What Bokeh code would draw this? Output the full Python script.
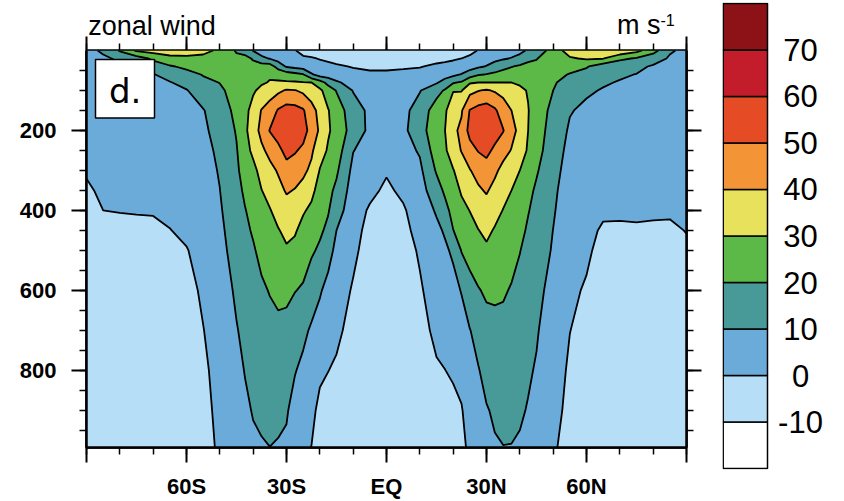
import numpy as np
from bokeh.plotting import figure
from bokeh.models import Range1d, FixedTicker, LinearAxis, Label, BoxAnnotation
from bokeh.layouts import row, column
from bokeh.embed import file_html
from bokeh.resources import INLINE
from bokeh.core.properties import value

# ---------------- data ----------------
lats = [-90, -85, -80, -75, -70, -65, -60, -55, -50, -45,
        -42.5, -40, -37.5, -35, -32.5, -30, -27.5, -25, -22.5, -20, -17.5, -15,
        -10, -5, 0, 5, 10,
        15, 17.5, 20, 22.5, 25, 27.5, 30, 32.5, 35, 37.5, 40, 42.5,
        45, 50, 55, 60, 65, 70, 75, 80, 85, 90]
plevs = [0, 20, 40, 60, 80, 100, 150, 200, 250, 300, 350, 400, 450, 500, 600, 700, 800, 900, 1000]

# zonal wind (m/s): one column per latitude, values at plevs (top -> bottom)
u_by_lat = [
    [8, 7.5, 7, 6.5, 6, 5.5, 4.5, 3.5, 2, 0.7, -1, -2, -3, -3.5, -4, -4, -4, -3.5, -3],              # 90S
    [11, 9, 8, 7.5, 7, 6.5, 5.5, 4.5, 3.5, 2.5, 1.2, 0, -1.5, -2.5, -3.5, -4, -4, -3.5, -3],          # 85S
    [21, 11, 9, 8, 7.5, 7, 6, 5, 4, 3, 1.8, 0.2, -1.5, -2.5, -3.5, -4, -4, -3.5, -3],                # 80S
    [31.5, 15, 10.2, 8.5, 7.8, 7.3, 6.3, 5.3, 4.3, 3.2, 2, 0.4, -1.5, -2.5, -3.5, -4, -4, -3.5, -3],  # 75S
    [34, 22, 14.3, 9.5, 8.3, 7.8, 6.8, 5.8, 4.6, 3.4, 2.2, 0.5, -1.3, -2.5, -3.5, -4, -4, -3.5, -3],  # 70S
    [35, 27, 19, 13.5, 9.5, 8.5, 7.3, 6.3, 5.2, 4, 2.8, 1.6, -0.2, -1.5, -3, -3.5, -3.5, -3, -2.5],  # 65S
    [35, 27.5, 22, 17, 13, 9.5, 8.3, 7.5, 6.5, 5.3, 4.2, 3, 1.6, -0.4, -2.5, -3, -3, -2.5, -2],     # 60S
    [33, 27, 23.5, 20.5, 18, 15, 9.5, 8.8, 8, 7, 6, 5, 4, 3, 1.2, -0.2, -1.2, -1.5, -1.5],          # 55S
    [28, 26, 24, 22.5, 20.2, 18.5, 15, 12.5, 11.3, 10.6, 9.9, 9, 8, 7, 5, 3.5, 2.3, 1.3, 0.6],      # 50S
    [19, 22, 23, 23.5, 23.5, 23.5, 22.5, 20.8, 19.3, 18.5, 17, 16, 15, 14, 11.5, 9.5, 7.5, 5.5, 4],  # 45S
    [16, 23, 24, 25, 26, 26.5, 27.5, 28, 26.5, 23.5, 21.5, 19.5, 18, 16.5, 14, 12, 10.3, 8.5, 6.5],  # 42.5S
    [9.5, 19, 23, 25, 27, 29, 33, 35, 32, 27.5, 25, 23, 21, 19, 16, 14, 12.5, 10.5, 8.5],           # 40S
    [6, 12, 25, 27, 29, 32, 40.5, 43, 38, 33, 29.8, 27, 24.5, 22.5, 18.5, 15.5, 13.5, 11.3, 9.3],   # 37.5S
    [5, 9.5, 25, 29, 30.5, 36, 44, 50.5, 43, 37, 33, 29.5, 26.5, 24, 20.5, 17, 14.5, 12, 9.8],      # 35S
    [3, 6, 16, 27, 31, 38, 51, 54.5, 47.5, 41, 37, 33, 29.5, 27, 22, 18, 14.5, 11.8, 9.2],          # 32.5S
    [2, 4, 9, 25, 31, 41, 54, 57, 53, 46.5, 41, 36, 32, 29, 21.5, 18, 14, 10.8, 8.5],               # 30S
    [0.5, 2.5, 7, 23, 31, 40.5, 53.5, 56.5, 51, 45, 39.5, 35, 31, 27.5, 20.3, 15, 10.5, 7, 4.5],    # 27.5S
    [-3, 1.5, 5.5, 20.5, 30.5, 38, 51, 54, 48, 42, 37, 31, 27, 24, 19, 12, 8, 4.5, 1.5],            # 25S
    [-4, 0.8, 4, 11, 30, 35, 43.5, 46, 41.5, 38, 32.5, 28, 24, 21.3, 14.5, 8.8, 5, 2, -0.3],        # 22.5S
    [-5, -0.5, 3, 6, 24, 32, 37, 38.5, 34, 29.5, 26, 23.5, 21.5, 18.5, 11, 6, 1.5, -2, -3],         # 20S
    [-5.5, -1.5, 2, 5, 17, 25, 30.5, 31, 29, 25.5, 22.5, 20.7, 18, 13.5, 7, 3.5, 0.1, -2.5, -3.5],  # 17.5S
    [-6, -2.5, 1, 4, 11.5, 19.5, 25, 27, 25, 21.5, 18, 14.5, 10, 7.5, 4, 1.5, -1, -3, -4],          # 15S
    [-6, -4, -0.5, 2.5, 6, 9.5, 14.5, 15.5, 10.3, 7.5, 5.5, 4, 2.8, 1.7, -0.8, -2.5, -4, -4.5, -5],  # 10S
    [-6, -4.5, -1.5, 1.5, 3.5, 5, 8, 8, 6, 4, 2, -1, -2.5, -3.5, -5, -5.5, -6, -6, -6],             # 5S
    [-6, -4.5, -1.5, 1.5, 2.5, 3.5, 4.5, 4.5, 3, 0.8, -1.5, -3, -4, -5, -6, -6.5, -6.5, -6.5, -6.5],  # EQ
    [-6, -4.5, -1, 2, 4, 5.5, 7.5, 8, 6.5, 4, 1.7, -1, -2.5, -3.5, -5, -5.5, -6, -6, -6],           # 5N
    [-6, -3.5, -0.5, 3, 6.5, 9.5, 14, 15.5, 11, 8, 6, 4.5, 3, 1, -1, -3, -4, -4.5, -5],             # 10N
    [-6, -2.5, 1.5, 5, 9, 16.5, 25, 27, 25, 21, 16, 11, 8, 6.5, 4, 2, -1, -3, -4],                  # 15N
    [-5.5, -2, 2.5, 6, 13.5, 21, 28.5, 29.8, 28.5, 24.5, 21.5, 17, 11, 8.5, 5.5, 2.7, -0.1, -2.5, -3.8],  # 17.5N
    [-5, -1, 3, 7.5, 19, 29.5, 36, 38, 35, 29.5, 26, 23, 19.8, 11.5, 7, 4, 1, -2, -3.5],            # 20N
    [-4.5, 0, 4, 10.5, 21, 29.5, 39, 42, 40.5, 34.5, 31, 27.5, 24, 20.5, 10.5, 6, 2.5, -0.5, -2],   # 22.5N
    [-3.5, 2.5, 6, 15, 29, 37, 50.5, 53.5, 46, 39.5, 35, 30.2, 27, 23, 17, 9.7, 6, 3.5, 1.5],       # 25N
    [0.5, 4, 8.5, 19, 30, 39.5, 53.5, 56, 50.5, 43.5, 38.5, 34, 29.7, 26.5, 19.3, 13, 9.5, 6.5, 4],  # 27.5N
    [3, 6, 10.5, 20.5, 30, 41, 55, 57, 52.5, 46, 41, 36, 32, 28.5, 21.5, 16.5, 12.5, 9.5, 7],       # 30N
    [4, 7.5, 14, 22, 30, 39, 51.5, 54.5, 48, 42, 37, 33, 29.2, 26.5, 21.5, 17.5, 14, 11, 9.2],      # 32.5N
    [5, 9, 17, 24, 30, 37, 45, 50.5, 43.5, 37, 33, 29.7, 27, 25, 21, 17.5, 14.5, 12, 9.7],          # 35N
    [6.5, 10.5, 19.5, 25, 30, 33.5, 40, 43, 39.5, 34, 30, 27.5, 25, 23, 19.3, 16, 13.5, 11.5, 9.7],  # 37.5N
    [8, 12.5, 21.5, 25, 29, 31.5, 35.5, 37.5, 34, 30, 27, 24.5, 22.5, 20.3, 17, 14.5, 12.5, 11, 9],  # 40N
    [11, 17, 23.5, 26, 28, 29.5, 30.3, 30, 29, 25.5, 22.5, 20.5, 18.7, 17, 14.8, 12.7, 11, 9.5, 7.8],  # 42.5N
    [13, 19.5, 22.5, 24, 25, 25.5, 26, 25.5, 24, 21, 18.5, 17, 15.5, 14.5, 12.5, 10.8, 9.3, 8, 6.5],  # 45N
    [25, 26, 24, 22.5, 21, 20, 17, 15, 13.5, 12.5, 11.5, 10.8, 9.9, 9.2, 7, 5, 3.2, 1.8, 0.6],       # 50N
    [34, 29, 23, 19.5, 16.5, 14, 10.5, 9, 8, 7, 6, 5, 4, 3.2, 1.5, 0.1, -1, -1.5, -2],              # 55N
    [37, 31, 21, 16, 13, 11, 8.5, 7.5, 6.5, 5.5, 4.5, 3.5, 2.5, 1.3, -0.8, -2, -2.5, -2.5, -2.5],   # 60N
    [37, 30.5, 14, 12.5, 10.8, 9.5, 8, 7, 6, 4.8, 3.5, 1.5, -1.2, -2.5, -3.5, -4, -4, -3.5, -3],    # 65N
    [38, 22, 13, 11, 9.5, 8.8, 7.5, 6.5, 5.5, 4.3, 3, 1.3, -1.2, -2.5, -3.5, -4, -4, -3.5, -3],     # 70N
    [33, 19, 12, 9.8, 9, 8.5, 7.3, 6.3, 5.3, 4.2, 3, 1.5, -1, -2.2, -3.5, -4, -4, -3.5, -3],        # 75N
    [24, 14, 9, 8.3, 7.8, 7.5, 6.5, 5.5, 4.5, 3.5, 2.3, 1, -1, -2.2, -3.5, -4, -4, -3.5, -3],       # 80N
    [11, 9, 8, 7.5, 7, 6.8, 6, 5, 4, 3, 2, 0.8, -1, -2.2, -3.5, -4, -4, -3.5, -3],                  # 85N
    [8, 7.5, 7, 6.8, 6.5, 6.2, 5.5, 4.7, 3.8, 3, 2.2, 1.3, 0.2, -1, -2.5, -3.5, -3.5, -3, -2.5],    # 90N
]

levels = [-20, -10, 0, 10, 20, 30, 40, 50, 60, 70, 80]
colors = ["#FFFFFF", "#B6DEF6", "#6BABDA", "#489A98", "#5CB947",
          "#E7E15C", "#F39537", "#E54B24", "#C31D2B", "#8C1217"]
cbar_labels = ["-10", "0", "10", "20", "30", "40", "50", "60", "70"]

lat_ticks = [-90, -60, -30, 0, 30, 60, 90]
lat_labels = ["", "60S", "30S", "EQ", "30N", "60N", ""]
lat_minor = list(range(-90, 91, 10))
p_ticks = [200, 400, 600, 800]
p_minor = list(range(50, 1000, 50))

title_left = "zonal wind"
units_main = "m s"
units_exp = "-1"
panel_tag = "d."

FONT = "Liberation Sans"

z = np.array(u_by_lat, dtype=float).T  # (len(plevs), len(lats))


def style(ax, ticks, minor, show, over=None, inward=False):
    ax.ticker = FixedTicker(ticks=ticks, minor_ticks=minor)
    ax.axis_line_width = 2.5
    ax.axis_line_color = "black"
    ax.major_tick_line_width = 2
    ax.minor_tick_line_width = 1.5
    if inward:
        ax.major_tick_in, ax.major_tick_out = 14, 0
        ax.minor_tick_in, ax.minor_tick_out = 7, 0
    else:
        ax.major_tick_in, ax.major_tick_out = 0, 15
        ax.minor_tick_in, ax.minor_tick_out = 0, 7
    ax.major_label_text_font = FONT
    ax.major_label_text_font_style = "bold"
    ax.major_label_text_color = "black"
    if show:
        ax.major_label_text_font_size = "22px"
        if over:
            ax.major_label_overrides = over
    else:
        ax.major_label_overrides = {t: "" for t in ticks}
        ax.major_label_text_font_size = "0px"
        ax.major_label_standoff = 0


# ---------------- title strip (also carries the top tick marks) ----------------
tf = figure(width=706, height=50, x_range=Range1d(-90, 90), y_range=Range1d(50, 0),
            output_backend="svg", toolbar_location=None,
            x_axis_location="below", y_axis_location=None,
            min_border_left=86, min_border_right=20, min_border_top=0, min_border_bottom=0)
tf.grid.visible = False
tf.outline_line_color = None
for ax in tf.below:
    style(ax, lat_ticks, lat_minor, False, inward=True)
tf.text(x=[-89.5], y=[25.5], text=[title_left], text_font=value(FONT), text_font_size=value("27px"),
        text_align="left", text_baseline="middle", text_color="black")
tf.text(x=[82.2], y=[24.5], text=[units_main], text_font=value(FONT), text_font_size=value("27px"),
        text_align="right", text_baseline="middle", text_color="black")
tf.text(x=[82.2], y=[19.5], text=[units_exp], text_font=value(FONT), text_font_size=value("16px"),
        text_align="left", text_baseline="middle", text_color="black")

# ---------------- main panel ----------------
p = figure(width=706, height=451, x_range=Range1d(-90, 90), y_range=Range1d(993, 0),
           output_backend="svg", toolbar_location=None,
           min_border_left=86, min_border_right=20, min_border_top=0, min_border_bottom=51)
p.grid.visible = False
p.outline_line_color = "black"
p.outline_line_width = 2.5
p.background_fill_color = "white"

p.contour(x=lats, y=plevs, z=z, levels=levels, fill_color=colors,
          line_color="black", line_width=1.8)

p.add_layout(LinearAxis(), "right")

lat_over = {t: l for t, l in zip(lat_ticks, lat_labels)}

for ax in p.below:
    style(ax, lat_ticks, lat_minor, True, lat_over)
    ax.major_label_standoff = 11
for ax in p.left:
    style(ax, p_ticks, p_minor, True)
    ax.major_label_standoff = 15
for ax in p.right:
    style(ax, p_ticks, p_minor, False)

p.add_layout(BoxAnnotation(left=-87.3, right=-69.6, top=22.3, bottom=168.8,
                           fill_color="white", fill_alpha=1, line_color="black",
                           line_width=1.5, line_alpha=1))
p.add_layout(Label(x=-78.4, y=102, text=panel_tag, text_font="DejaVu Sans", text_font_size="34px",
                   text_align="center", text_baseline="middle", text_color="black"))

# ---------------- colour bar ----------------
cb = figure(width=138, height=501, x_range=Range1d(0, 122), y_range=Range1d(-20.214, 80.214),
            output_backend="svg", toolbar_location=None,
            x_axis_location=None, y_axis_location=None,
            min_border_left=16, min_border_right=0, min_border_top=2, min_border_bottom=32)
cb.grid.visible = False
cb.outline_line_color = None
cb.quad(left=0.7, right=45, bottom=levels[:-1], top=levels[1:], fill_color=colors,
        line_color="black", line_width=1.5)
cb.text(x=78, y=levels[1:-1], text=cbar_labels, text_align="center", text_baseline="middle",
        text_font=value(FONT), text_font_size=value("31px"), text_color="black")

layout = row(column(tf, p), cb)
open("out.html", "w").write(file_html(layout, INLINE))
